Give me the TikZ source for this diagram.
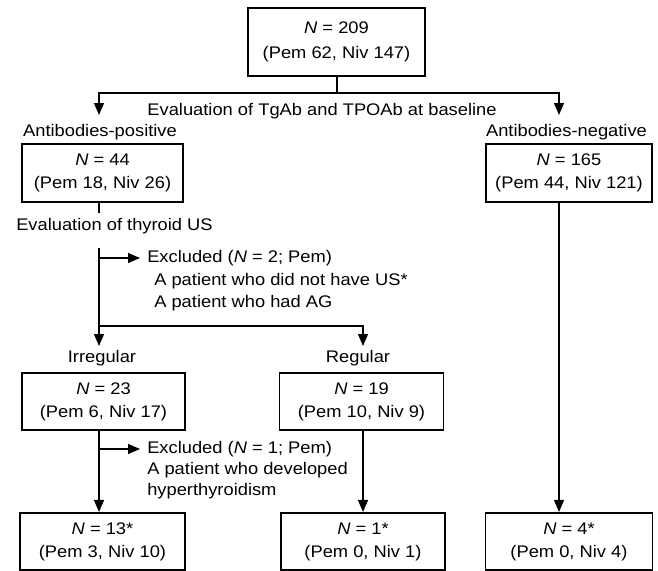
\documentclass[tikz,border=0pt]{standalone}
\usepackage{fontspec}
\setmainfont{Liberation Sans}[FakeStretch=1.09]
\usetikzlibrary{arrows.meta}
\begin{document}
\begin{tikzpicture}[x=0.75pt,y=-0.75pt,
  every node/.style={font=\fontsize{12.6pt}{17.25pt}\selectfont, inner sep=0pt},
  box/.style={draw, line width=1.3pt, align=center, minimum height=43pt},
  lbl/.style={anchor=center},
  ltxt/.style={anchor=west, align=left},
  conn/.style={line width=0.9pt},
  arr/.style={line width=0.9pt, -{Triangle[width=7.5pt,length=9pt]}}]
\useasboundingbox (0,0) rectangle (658,571);
% boxes
\node[box, minimum width=132.75pt, minimum height=51pt] (top) at (336.5,42) {\textit{N} = 209\\[1pt](Pem 62, Niv 147)};
\node[box, minimum width=120.75pt] (pos) at (102.5,173) {\textit{N} = 44\\(Pem 18, Niv 26)};
\node[box, minimum width=124.5pt] (neg) at (569,173) {\textit{N} = 165\\(Pem 44, Niv 121)};
\node[box, minimum width=122.25pt] (irr) at (103.5,401.5) {\textit{N} = 23\\(Pem 6, Niv 17)};
\node[box, minimum width=123pt] (reg) at (361.5,401.5) {\textit{N} = 19\\(Pem 10, Niv 9)};
\node[box, minimum width=123.75pt] (r13) at (102.5,541.5) {\textit{N} = 13*\\(Pem 3, Niv 10)};
\node[box, minimum width=123pt] (r1) at (363,541.5) {\textit{N} = 1*\\(Pem 0, Niv 1)};
\node[box, minimum width=125.25pt] (r4) at (569,541.5) {\textit{N} = 4*\\(Pem 0, Niv 4)};
% labels
\node[lbl] (evalab) at (322,111) {Evaluation of TgAb and TPOAb at baseline};
\node[lbl] (lpos) at (100,132) {Antibodies-positive};
\node[lbl] (lneg) at (566.5,132) {Antibodies-negative};
\node[ltxt] (evalus) at (16,226) {Evaluation of thyroid US};
\node[ltxt] (exc1) at (147,258) {Excluded (\textit{N} = 2; Pem)};
\node[ltxt] (exc1a) at (154,281) {A patient who did not have US*};
\node[ltxt] (exc1b) at (154,303) {A patient who had AG};
\node[lbl] (lirr) at (102,358) {Irregular};
\node[lbl] (lreg) at (358,358) {Regular};
\node[ltxt] (exc2) at (147,449) {Excluded (\textit{N} = 1; Pem)};
\node[ltxt] (exc2a) at (147,470) {A patient who developed};
\node[ltxt] (exc2b) at (147,491) {hyperthyroidism};
% coordinates
\coordinate (split) at (337,93);
\coordinate (tipL) at (99,115);
\coordinate (tipR) at (559,115);
\coordinate (posEnd) at (99,213);
\coordinate (usStart) at (99,248);
\coordinate (exc1J) at (99,258);
\coordinate (exc1T) at (140,258);
\coordinate (branch) at (99,326);
\coordinate (tipIrr) at (99,346);
\coordinate (tipReg) at (363,346);
\coordinate (exc2J) at (99,449);
\coordinate (exc2T) at (140,449);
% connectors
\draw[conn] (top.south -| split) -- (split);
\draw[arr] (split) -| (tipL);
\draw[arr] (split) -| (tipR);
\draw[conn] (pos.south -| posEnd) -- (posEnd);
\draw[arr] (usStart) -- (tipIrr);
\draw[arr] (exc1J) -- (exc1T);
\draw[arr] (branch) -| (tipReg);
\draw[arr] (irr.south -| exc2J) -- (r13.north -| exc2J);
\draw[arr] (exc2J) -- (exc2T);
\draw[arr] (reg.south -| tipReg) -- (r1.north -| tipReg);
\draw[arr] (neg.south -| tipR) -- (r4.north -| tipR);
\end{tikzpicture}
\end{document}
